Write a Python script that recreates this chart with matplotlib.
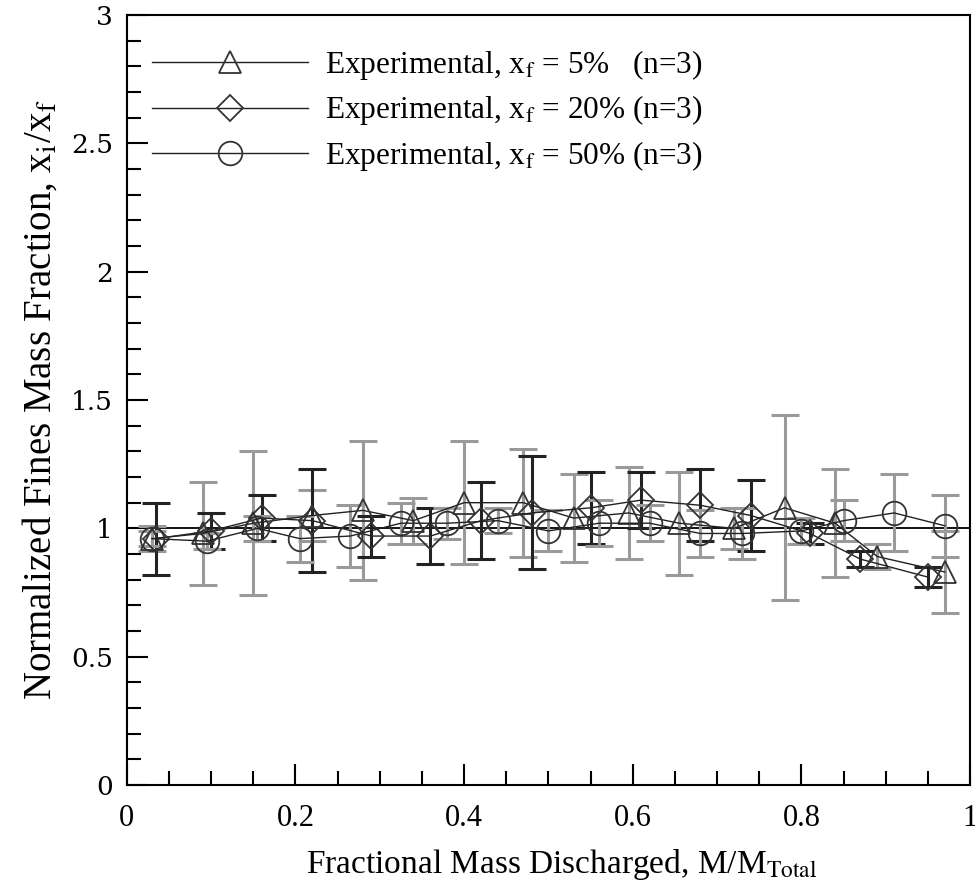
import matplotlib
matplotlib.use("Agg")
import matplotlib.pyplot as plt
from matplotlib.ticker import MultipleLocator

plt.rcParams["font.family"] = ["Liberation Serif", "DejaVu Serif"]
plt.rcParams["mathtext.fontset"] = "stix"

# x_f = 5 %
x5 = [0.03, 0.09, 0.15, 0.22, 0.28, 0.34, 0.40, 0.47, 0.53, 0.595, 0.655, 0.72, 0.78, 0.84, 0.89, 0.97]
y5 = [0.96, 0.98, 1.02, 1.05, 1.07, 1.03, 1.10, 1.10, 1.04, 1.06, 1.02, 1.00, 1.08, 1.02, 0.89, 0.83]
e5 = [0.05, 0.20, 0.28, 0.10, 0.27, 0.09, 0.24, 0.21, 0.17, 0.18, 0.20, 0.08, 0.36, 0.21, 0.05, 0.16]

# x_f = 20 %
x20 = [0.035, 0.10, 0.16, 0.22, 0.29, 0.36, 0.42, 0.48, 0.55, 0.61, 0.68, 0.74, 0.81, 0.87, 0.95]
y20 = [0.96, 0.99, 1.04, 1.03, 0.97, 0.97, 1.03, 1.06, 1.08, 1.11, 1.09, 1.05, 0.98, 0.88, 0.81]
e20 = [0.14, 0.07, 0.09, 0.20, 0.08, 0.11, 0.15, 0.22, 0.14, 0.11, 0.14, 0.14, 0.04, 0.03, 0.04]

# x_f = 50 %
x50 = [0.03, 0.095, 0.155, 0.205, 0.265, 0.325, 0.38, 0.44, 0.50, 0.56, 0.62, 0.68, 0.73, 0.80, 0.85, 0.91, 0.97]
y50 = [0.96, 0.95, 1.00, 0.96, 0.97, 1.02, 1.02, 1.03, 0.99, 1.02, 1.02, 0.98, 0.98, 0.99, 1.03, 1.06, 1.01]
e50 = [0.03, 0.03, 0.05, 0.09, 0.12, 0.08, 0.06, 0.05, 0.08, 0.09, 0.07, 0.09, 0.10, 0.05, 0.08, 0.15, 0.12]

series = [
    (x5, y5, e5, "^", "#9a9a9a", 16, r"Experimental, x$_{\mathrm{f}}$ = 5%   (n=3)"),
    (x20, y20, e20, "D", "#222222", 13, r"Experimental, x$_{\mathrm{f}}$ = 20% (n=3)"),
    (x50, y50, e50, "o", "#9a9a9a", 17, r"Experimental, x$_{\mathrm{f}}$ = 50% (n=3)"),
]

fig = plt.figure(figsize=(9.75, 8.85), dpi=100)
ax = fig.add_axes([0.130, 0.113, 0.865, 0.870])

ax.axhline(1.0, color="black", lw=1.3, zorder=1)

handles = []
for x, y, e, mk, ec, ms, lab in series:
    ax.errorbar(x, y, yerr=e, fmt="none", ecolor=ec, elinewidth=2.2,
                capsize=10, capthick=2.2, zorder=2)
    h, = ax.plot(x, y, color="#222222", lw=1.0, marker=mk, ms=ms,
                 mfc="none", mec="#333333", mew=1.3, label=lab, zorder=3)
    handles.append(h)

ax.legend(handles=handles, loc="upper left", bbox_to_anchor=(0.015, 0.974),
          frameon=False, fontsize=22.5, handlelength=5.0, handletextpad=0.55,
          labelspacing=0.38, borderaxespad=0)

ax.set_xlim(0, 1)
ax.set_ylim(0, 3)
ax.xaxis.set_major_locator(MultipleLocator(0.2))
ax.xaxis.set_minor_locator(MultipleLocator(0.05))
ax.yaxis.set_major_locator(MultipleLocator(0.5))
ax.yaxis.set_minor_locator(MultipleLocator(0.1))
ax.tick_params(which="both", direction="in", top=False, right=False, width=1.5)
ax.tick_params(which="major", length=15)
ax.tick_params(which="minor", length=10)
ax.tick_params(axis="x", labelsize=22, pad=14)
ax.tick_params(axis="y", labelsize=19, pad=10)
ax.set_xticks([0, 0.2, 0.4, 0.6, 0.8, 1.0])
ax.set_xticklabels(["0", "0.2", "0.4", "0.6", "0.8", "1"])
ax.set_yticks([0, 0.5, 1, 1.5, 2, 2.5, 3])
ax.set_yticklabels(["0", "0.5", "1", "1.5", "2", "2.5", "3"], family="DejaVu Serif")
for s in ax.spines.values():
    s.set_linewidth(1.5)

ax.set_xlabel(r"Fractional Mass Discharged, M/M$_{\mathrm{Total}}$", fontsize=24, labelpad=10)
ax.xaxis.label.set_x(0.515)
ax.set_ylabel(r"Normalized Fines Mass Fraction, x$_{\mathrm{i}}$/x$_{\mathrm{f}}$", fontsize=28, labelpad=8)

fig.savefig("out.png", dpi=100)
